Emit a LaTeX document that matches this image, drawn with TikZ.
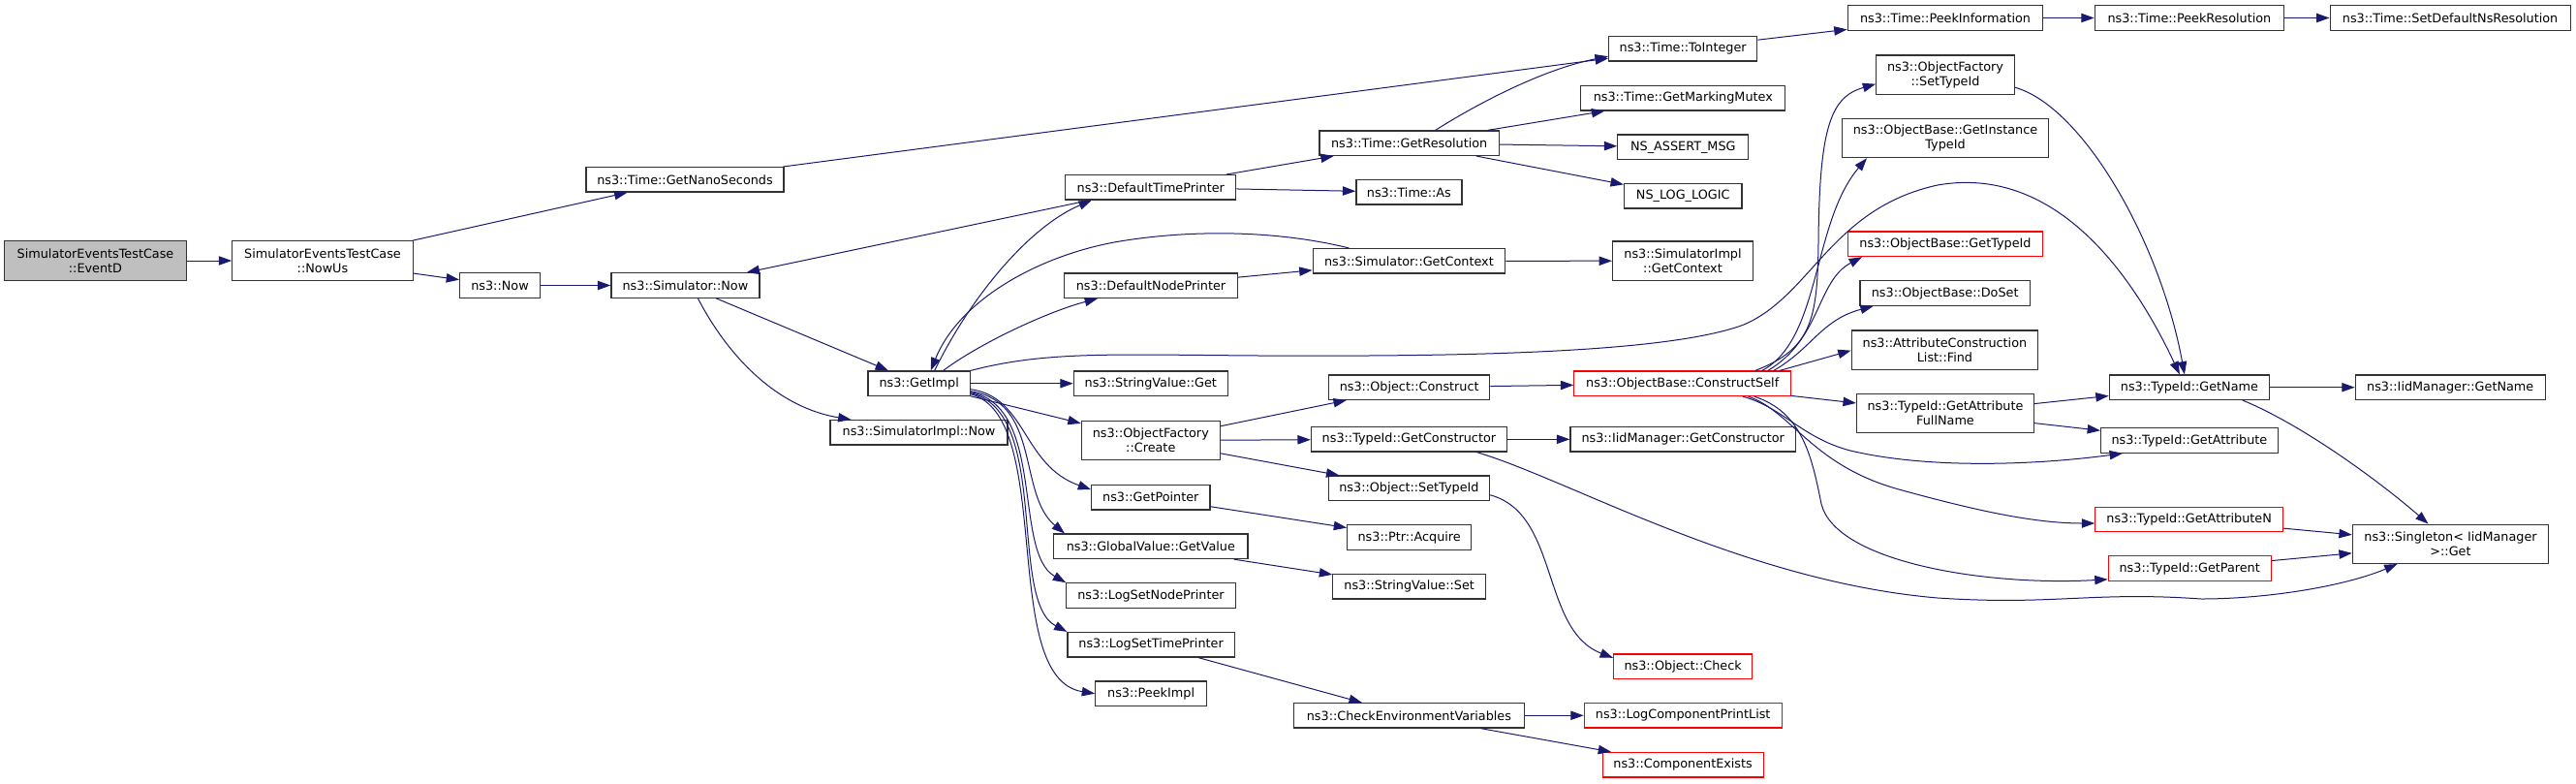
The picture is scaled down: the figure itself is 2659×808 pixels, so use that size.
\documentclass[tikz,border=0pt]{standalone}
\usepackage{fontspec}
\usetikzlibrary{arrows.meta,calc}
\newfontfamily\dvsfont{DejaVu Sans}
\definecolor{edgec}{HTML}{191970}
\definecolor{bordc}{HTML}{333333}
\definecolor{rootfill}{HTML}{BFBFBF}
\definecolor{redc}{HTML}{FF0000}
\tikzset{
  fn/.style={draw=bordc, line width=0.9pt, fill=white, inner sep=0pt, align=center,
    font=\dvsfont\fontsize{9.6pt}{11.25pt}\selectfont, minimum height=19.1pt},
  two/.style={minimum height=30.2pt},
  redb/.style={draw=redc},
  root/.style={fill=rootfill},
  wd/.style={minimum width=#1*0.75pt},
  edge/.style={draw=edgec, line width=0.75pt, -{Triangle[length=10pt,width=7pt]}},
}
\begin{document}
\begin{tikzpicture}[x=0.75pt,y=-0.75pt]
\fill[white] (0,0) rectangle (2659,808);
\useasboundingbox (0,0) rectangle (2659,808);
% nodes
\node[fn,root,two,wd=188] (ed) at (98.5,269) {SimulatorEventsTestCase\\::EventD};
\node[fn,two,wd=186.5] (nu) at (333,269) {SimulatorEventsTestCase\\::NowUs};
\node[fn,wd=204] (gns) at (707,185.3) {ns3::Time::GetNanoSeconds};
\node[fn,wd=82.7] (now) at (516,294.5) {ns3::Now};
\node[fn,wd=153] (snow) at (707.4,294.5) {ns3::Simulator::Now};
\node[fn,wd=183] (sinow) at (948.5,446.3) {ns3::SimulatorImpl::Now};
\node[fn,wd=105.6] (gi) at (948.7,395.7) {ns3::GetImpl};
\node[fn,wd=176] (dtp) at (1187.8,193.3) {ns3::DefaultTimePrinter};
\node[fn,wd=179] (dnp) at (1188,294.7) {ns3::DefaultNodePrinter};
\node[fn,wd=159] (svg) at (1187.8,395.7) {ns3::StringValue::Get};
\node[fn,two,wd=143] (ofc) at (1187.8,454.5) {ns3::ObjectFactory\\::Create};
\node[fn,wd=122.2] (gp) at (1187.8,513.2) {ns3::GetPointer};
\node[fn,wd=200.4] (gv) at (1187.8,563.8) {ns3::GlobalValue::GetValue};
\node[fn,wd=174.5] (lsnp) at (1188,614.5) {ns3::LogSetNodePrinter};
\node[fn,wd=172.2] (lstp) at (1188.1,665.2) {ns3::LogSetTimePrinter};
\node[fn,wd=114.8] (pimpl) at (1188.1,715.7) {ns3::PeekImpl};
\node[fn,wd=185.4] (gr) at (1454.7,147.7) {ns3::Time::GetResolution};
\node[fn,wd=109] (tas) at (1454.4,198.3) {ns3::Time::As};
\node[fn,wd=198.6] (sgc) at (1454.4,269.3) {ns3::Simulator::GetContext};
\node[fn,wd=166] (oc) at (1454.7,399.7) {ns3::Object::Construct};
\node[fn,wd=202] (tgc) at (1454.4,453.3) {ns3::TypeId::GetConstructor};
\node[fn,wd=166.4] (ost) at (1454.4,503.8) {ns3::Object::SetTypeId};
\node[fn,wd=128] (pa) at (1454.7,554.5) {ns3::Ptr::Acquire};
\node[fn,wd=157.8] (svs) at (1454.7,605.2) {ns3::StringValue::Set};
\node[fn,wd=237.6] (cev) at (1454.4,738.3) {ns3::CheckEnvironmentVariables};
\node[fn,wd=153.3] (ti) at (1737.2,50.2) {ns3::Time::ToInteger};
\node[fn,wd=211] (gmm) at (1737.3,101.2) {ns3::Time::GetMarkingMutex};
\node[fn,wd=135] (nam) at (1737.3,151.8) {NS\_ASSERT\_MSG};
\node[fn,wd=121.5] (nll) at (1737.2,202.2) {NS\_LOG\_LOGIC};
\node[fn,two,wd=145] (sigc) at (1737,269.2) {ns3::SimulatorImpl\\::GetContext};
\node[fn,redb,wd=223.7] (cs) at (1736.7,395.8) {ns3::ObjectBase::ConstructSelf};
\node[fn,wd=232.6] (igc) at (1737.2,453.3) {ns3::IidManager::GetConstructor};
\node[fn,redb,wd=143] (chk) at (1737.1,687.8) {ns3::Object::Check};
\node[fn,redb,wd=204] (lcpl) at (1737.2,738.3) {ns3::LogComponentPrintList};
\node[fn,redb,wd=166] (cex) at (1737.1,789.2) {ns3::ComponentExists};
\node[fn,wd=201.7] (tpi) at (2008,18.5) {ns3::Time::PeekInformation};
\node[fn,two,wd=142.6] (ofst) at (2008,77.2) {ns3::ObjectFactory\\::SetTypeId};
\node[fn,two,wd=213.3] (git) at (2008,142.5) {ns3::ObjectBase::GetInstance\\TypeId};
\node[fn,redb,wd=200.6] (ogt) at (2008,251.8) {ns3::ObjectBase::GetTypeId};
\node[fn,wd=175.6] (ods) at (2007.7,302.5) {ns3::ObjectBase::DoSet};
\node[fn,two,wd=192.4] (acl) at (2007.4,361.2) {ns3::AttributeConstruction\\List::Find};
\node[fn,two,wd=183.2] (gafn) at (2008,426.3) {ns3::TypeId::GetAttribute\\FullName};
\node[fn,wd=195.3] (tpr) at (2259.9,18.5) {ns3::Time::PeekResolution};
\node[fn,wd=165.3] (tgn) at (2259.9,399.7) {ns3::TypeId::GetName};
\node[fn,wd=182.6] (tga) at (2259.9,454.5) {ns3::TypeId::GetAttribute};
\node[fn,redb,wd=193.6] (tgan) at (2259.6,536) {ns3::TypeId::GetAttributeN};
\node[fn,redb,wd=168] (tgp) at (2260.2,586.5) {ns3::TypeId::GetParent};
\node[fn,wd=248] (sdr) at (2529.1,18.5) {ns3::Time::SetDefaultNsResolution};
\node[fn,wd=196] (ign) at (2529.2,399.7) {ns3::IidManager::GetName};
\node[fn,two,wd=202.3] (sg) at (2529.5,561.3) {ns3::Singleton< IidManager\\>::Get};
% edges
\draw[edge] (ed) -- (nu);
\draw[edge] (nu) -- (gns);
\draw[edge] (nu) -- (now);
\draw[edge] (gns) -- (ti);
\draw[edge] (now) -- (snow);
\draw[edge] (snow) -- (gi);
\draw[edge] ($(snow.south)+(13,0)$) .. controls (750,365) and (800,420) .. ($(sinow.north)+(-70,0)$);
\draw[edge] ($(gi.north)+(16,0)$) .. controls (1000,310) and (1060,235) .. ($(dtp.south)+(-61,0)$);
\draw[edge] (dtp) -- (snow);
\draw[edge] (dtp) -- (gr);
\draw[edge] (dtp) -- (tas);
\draw[edge] ($(gi.north)+(25,0)$) .. controls (1010,355) and (1080,322) .. ($(dnp.south)+(-55,0)$);
\draw[edge] (dnp) -- (sgc);
\draw[edge] ($(sgc.north)+(-62,0)$) .. controls (1320,238) and (1230,236) .. (1150,250) .. controls (1070,265) and (990,310) .. ($(gi.north)+(12,0)$);
\draw[edge] (sgc) -- (sigc);
\draw[edge] ($(gr.north)+(27,0)$) .. controls (1520,110) and (1590,72) .. ($(ti.west)+(0,8)$);
\draw[edge] (gr) -- (gmm);
\draw[edge] (gr) -- (nam);
\draw[edge] (gr) -- (nll);
\draw[edge] (ti) -- (tpi);
\draw[edge] (tpi) -- (tpr);
\draw[edge] (tpr) -- (sdr);
\draw[edge] (gi.north east) .. controls (1080,362) and (1150,366) .. (1300,367) .. controls (1500,368) and (1720,365) .. (1800,335) .. controls (1870,305) and (1890,215) .. (2000,191) .. controls (2120,170) and (2200,280) .. ($(tgn.north)+(-10,0)$);
\draw[edge] (gi) -- (svg);
\draw[edge] (gi) -- (ofc);
\draw[edge] ($(gi.east)+(0,6)$) .. controls (1060,410) and (1055,480) .. ($(gp.west)+(0,-8)$);
\draw[edge] ($(gi.east)+(0,8)$) .. controls (1075,415) and (1050,510) .. ($(gv.north west)+(12,0)$);
\draw[edge] ($(gi.east)+(0,9)$) .. controls (1080,420) and (1045,570) .. (lsnp.north west);
\draw[edge] ($(gi.east)+(0,10)$) .. controls (1085,425) and (1040,620) .. (lstp.north west);
\draw[edge] ($(gi.east)+(0,11)$) .. controls (1090,430) and (1030,700) .. (pimpl.west);
\draw[edge] (ofc) -- (oc);
\draw[edge] (ofc) -- (tgc);
\draw[edge] (ofc) -- (ost);
\draw[edge] (tgc) -- (igc);
\draw[edge] ($(tgc.south)+(70,0)$) .. controls (1620,495) and (1800,600) .. (2000,617) .. controls (2120,625) and (2160,610) .. (2272,618) .. controls (2340,618) and (2420,605) .. ($(sg.south)+(-55,0)$);
\draw[edge] ($(ost.east)+(0,7)$) .. controls (1610,530) and (1590,650) .. ($(chk.west)+(0,-9)$);
\draw[edge] (gp) -- (pa);
\draw[edge] (gv) -- (svs);
\draw[edge] (lstp) -- (cev);
\draw[edge] (cev) -- (lcpl);
\draw[edge] (cev) -- (cex);
\draw[edge] (oc) -- (cs);
\draw[edge] ($(cs.north)+(75,0)$) .. controls (1870,360) and (1876,330) .. (1877,250) .. controls (1878,130) and (1890,100) .. ($(ofst.west)+(0,9.5)$);
\draw[edge] ($(cs.north)+(82,0)$) .. controls (1880,350) and (1870,230) .. ($(git.south)+(-81,0)$);
\draw[edge] ($(cs.north)+(88,0)$) .. controls (1880,350) and (1875,290) .. ($(ogt.south)+(-86,0)$);
\draw[edge] ($(cs.north)+(94,0)$) .. controls (1870,360) and (1880,330) .. ($(ods.south)+(-74,0)$);
\draw[edge] ($(cs.north)+(100,0)$) -- ($(acl.west)+(0,0.5)$);
\draw[edge] (cs) -- (gafn);
\draw[edge] ($(cs.south)+(62,0)$) .. controls (1840,420) and (1860,452) .. (1910,465) .. controls (1990,484) and (2100,480) .. ($(tga.south)+(-69,0)$);
\draw[edge] ($(cs.south)+(68,0)$) .. controls (1850,425) and (1870,480) .. (1960,505) .. controls (2040,527) and (2100,540) .. ($(tgan.west)+(0,4)$);
\draw[edge] ($(cs.south)+(74,0)$) .. controls (1860,425) and (1870,470) .. (1880,520) .. controls (1895,580) and (2050,605) .. ($(tgp.south west)+(0,-2)$);
\draw[edge] ($(ofst.east)+(0,13)$) .. controls (2150,110) and (2230,250) .. ($(tgn.north)+(-5,0)$);
\draw[edge] (gafn) -- (tgn);
\draw[edge] (gafn) -- (tga);
\draw[edge] (tgn) -- (ign);
\draw[edge] ($(tgn.south)+(55,0)$) .. controls (2380,440) and (2460,500) .. ($(sg.north)+(-23,0)$);
\draw[edge] (tgan) -- (sg);
\draw[edge] (tgp) -- (sg);
\end{tikzpicture}
\end{document}
